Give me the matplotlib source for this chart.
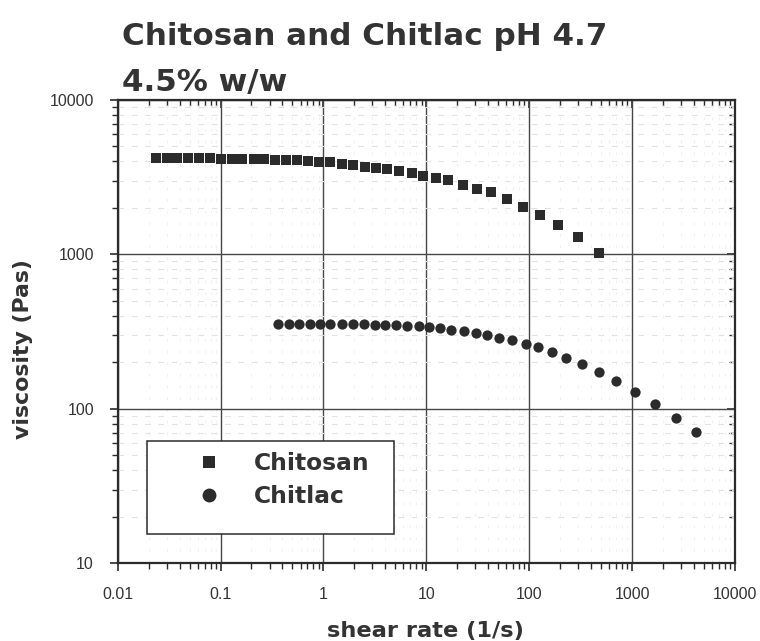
import matplotlib
matplotlib.use("Agg")
import matplotlib.pyplot as plt
from matplotlib.patches import Rectangle
from matplotlib.ticker import FixedLocator, LogLocator, NullFormatter

# Steady-shear viscosity curves
chitosan_rate = [0.0236, 0.0299, 0.0379, 0.0485, 0.0616, 0.0787, 0.100, 0.128,
                 0.163, 0.210, 0.267, 0.342, 0.437, 0.553, 0.714, 0.913, 1.15,
                 1.51, 1.96, 2.51, 3.21, 4.13, 5.48, 7.25, 9.31, 12.4, 16.1,
                 22.6, 30.8, 42.8, 60.2, 87.5, 127, 192, 299, 481]
chitosan_visc = [4220, 4220, 4220, 4200, 4200, 4200, 4180, 4160, 4140, 4140,
                 4120, 4100, 4100, 4080, 4000, 3960, 3960, 3860, 3770, 3660,
                 3620, 3550, 3450, 3350, 3230, 3120, 3050, 2800, 2670, 2520,
                 2280, 2030, 1810, 1540, 1290, 1020]

chitlac_rate = [0.362, 0.460, 0.579, 0.735, 0.925, 1.17, 1.50, 1.92, 2.46,
                3.14, 3.98, 5.05, 6.45, 8.44, 10.7, 13.7, 17.5, 23.4, 30.4,
                39.1, 51.2, 67.3, 92.9, 123, 166, 230, 329, 478, 703, 1067,
                1667, 2684, 4140]
chitlac_visc = [357, 357, 357, 357, 357, 355, 353, 353, 352, 350, 350, 348,
                346, 343, 340, 333, 326, 317, 311, 303, 287, 279, 265, 250,
                234, 213, 195, 173, 151, 129, 107, 87, 71]

x_ticks = [0.01, 0.1, 1, 10, 100, 1000, 10000]
x_tick_labels = ["0.01", "0.1", "1", "10", "100", "1000", "10000"]
y_ticks = [10, 100, 1000, 10000]
y_tick_labels = ["10", "100", "1000", "10000"]

series_names = ["Chitosan", "Chitlac"]
title_lines = ["Chitosan and Chitlac pH 4.7", "4.5% w/w"]
x_label = "shear rate (1/s)"
y_label = "viscosity (Pas)"

W, H = 760, 641
ink = "#2b2b2b"
text_col = "#333333"
bold_font = ["DejaVu Sans"]
tick_font = ["Liberation Sans", "DejaVu Sans"]

fig = plt.figure(figsize=(W / 100, H / 100), dpi=100)
fig.patch.set_facecolor("white")

ax_l, ax_r, ax_t, ax_b = 117.6, 735.0, 100.0, 563.3
ax = fig.add_axes([ax_l / W, 1 - ax_b / H, (ax_r - ax_l) / W, (ax_b - ax_t) / H])

ax.set_xscale("log")
ax.set_yscale("log")
ax.set_xlim(0.01, 10000)
ax.set_ylim(10, 10000)

ax.xaxis.set_minor_locator(LogLocator(base=10, subs=range(2, 10), numticks=20))
ax.yaxis.set_minor_locator(LogLocator(base=10, subs=range(2, 10), numticks=20))
ax.xaxis.set_minor_formatter(NullFormatter())
ax.yaxis.set_minor_formatter(NullFormatter())
ax.xaxis.set_major_locator(FixedLocator(x_ticks))
ax.yaxis.set_major_locator(FixedLocator(y_ticks))
ax.set_xticklabels(x_tick_labels)
ax.set_yticklabels(y_tick_labels)

# grid: solid majors, very faint dashed minors
ax.grid(True, which="major", color="#474747", linewidth=1.0, zorder=1)
ax.yaxis.grid(True, which="minor", color="#e2e2e2", linewidth=0.8,
              linestyle=(0, (5, 7)), zorder=0)
ax.xaxis.grid(True, which="minor", color="#f0f0f0", linewidth=0.7,
              linestyle=(0, (3, 9)), zorder=0)
ax.set_axisbelow(True)

for sp in ax.spines.values():
    sp.set_linewidth(1.6)
    sp.set_color(ink)

ax.tick_params(which="major", direction="out", length=6, width=1.2,
               color=ink, labelsize=11.5, labelcolor=text_col, pad=11)
ax.tick_params(which="minor", direction="out", length=4, width=1.0, color=ink)
for lab in ax.get_xticklabels() + ax.get_yticklabels():
    lab.set_family(tick_font)

# inward ticks on top and right edges
top = ax.secondary_xaxis("top")
top.xaxis.set_major_locator(FixedLocator(x_ticks))
top.xaxis.set_minor_locator(LogLocator(base=10, subs=range(2, 10), numticks=20))
top.tick_params(which="major", direction="in", length=6, width=1.2, color=ink,
                labeltop=False)
top.tick_params(which="minor", direction="in", length=4, width=1.0, color=ink)
top.xaxis.set_major_formatter(NullFormatter())
top.xaxis.set_minor_formatter(NullFormatter())
top.spines["top"].set_visible(False)

right = ax.secondary_yaxis("right")
right.yaxis.set_major_locator(FixedLocator(y_ticks))
right.yaxis.set_minor_locator(LogLocator(base=10, subs=range(2, 10), numticks=20))
right.tick_params(which="major", direction="in", length=6, width=1.2, color=ink,
                  labelright=False)
right.tick_params(which="minor", direction="in", length=4, width=1.0, color=ink)
right.yaxis.set_major_formatter(NullFormatter())
right.yaxis.set_minor_formatter(NullFormatter())
right.spines["right"].set_visible(False)

h1, = ax.plot(chitosan_rate, chitosan_visc, linestyle="none", marker="s",
              markersize=6.8, color=ink, markeredgewidth=0, zorder=3,
              label=series_names[0])
h2, = ax.plot(chitlac_rate, chitlac_visc, linestyle="none", marker="o",
              markersize=7.4, color=ink, markeredgewidth=0, zorder=3,
              label=series_names[1])

# legend box
lx0, lx1, ly0, ly1 = 146.7, 394.0, 440.7, 534.3
aw, ah = ax_r - ax_l, ax_b - ax_t
box = Rectangle(((lx0 - ax_l) / aw, (ax_b - ly1) / ah), (lx1 - lx0) / aw,
                (ly1 - ly0) / ah, transform=ax.transAxes, facecolor="white",
                edgecolor=ink, linewidth=1.1, zorder=4)
ax.add_patch(box)
leg = ax.legend(handles=[h1, h2], loc="upper left",
                bbox_to_anchor=((185.7 - ax_l) / aw, (ax_b - 452.0) / ah),
                frameon=False, borderpad=0, borderaxespad=0,
                handlelength=2.0, handletextpad=0.93, labelspacing=0.42,
                markerscale=1.35, prop={"family": bold_font, "weight": "bold",
                                        "size": 16.8})
leg.set_zorder(5)
for t in leg.get_texts():
    t.set_color(text_col)

# titles and axis labels
fig.text(122 / W, 1 - 45 / H, title_lines[0], ha="left", va="baseline",
         family=bold_font, weight="bold", size=22.3, color=text_col)
fig.text(122 / W, 1 - 90.7 / H, title_lines[1], ha="left", va="baseline",
         family=bold_font, weight="bold", size=22.3, color=text_col)
fig.text(425.9 / W, 1 - 631 / H, x_label, ha="center", va="center",
         family=bold_font, weight="bold", size=16.2, color=text_col)
fig.text(23.5 / W, 1 - 349 / H, y_label, ha="center", va="center",
         rotation=90, family=bold_font, weight="bold", size=15.8,
         color=text_col)

fig.savefig("out.png", dpi=100, facecolor="white")
